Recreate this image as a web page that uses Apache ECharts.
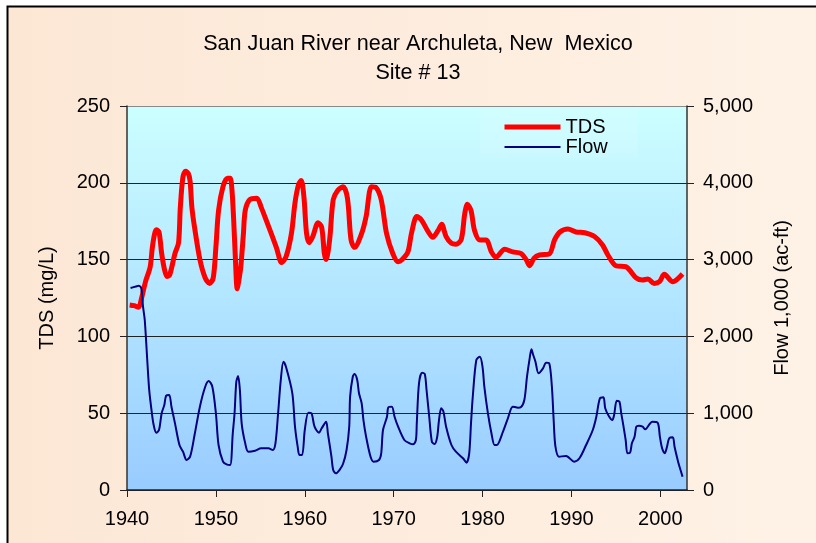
<!DOCTYPE html>
<html>
<head>
<meta charset="utf-8">
<script src="https://cdn.jsdelivr.net/npm/echarts@6/dist/echarts.min.js"></script>
<style>
  html, body { margin: 0; padding: 0; background: #ffffff; }
  #chart { width: 816px; height: 543px; }
</style>
</head>
<body>
<div id="chart"></div>
<script>
// Total dissolved solids (mg/L), annual series
const tdsYears = [
  1940.3, 1940.8, 1941.3, 1941.6, 1942.1, 1942.6, 1942.9, 1943.3, 1943.6, 1943.9,
  1944.2, 1944.5, 1944.8, 1945.4, 1945.8, 1946.0, 1946.3, 1946.6, 1946.9, 1947.1,
  1947.3, 1947.6, 1948.2, 1948.8, 1949.3, 1949.7, 1950.0, 1950.3, 1950.8, 1951.3,
  1951.6, 1951.8, 1952.0, 1952.2, 1952.4, 1952.6, 1952.8, 1953.1, 1953.3, 1953.8,
  1954.6, 1955.1, 1955.7, 1956.8, 1957.4, 1957.9, 1958.5, 1958.9, 1959.3, 1959.6,
  1959.9, 1960.2, 1960.5, 1960.9, 1961.5, 1961.9, 1962.2, 1962.4, 1962.8, 1963.2,
  1963.7, 1964.3, 1964.8, 1965.2, 1965.6, 1966.4, 1966.9, 1967.5, 1968.0, 1968.6,
  1969.2, 1969.9, 1970.5, 1970.9, 1971.6, 1972.0, 1972.6, 1973.1, 1973.9, 1974.4,
  1975.0, 1975.4, 1975.9, 1976.5, 1977.0, 1977.6, 1978.0, 1978.3, 1978.7, 1979.1,
  1979.7, 1980.4, 1981.0, 1981.5, 1982.5, 1983.4, 1984.3, 1984.9, 1985.3, 1985.8,
  1986.4, 1987.5, 1988.1, 1988.7, 1989.6, 1990.5, 1991.5, 1992.6, 1993.5, 1994.1,
  1995.0, 1996.1, 1997.3, 1998.0, 1998.6, 1999.3, 1999.9, 2000.45, 2001.4, 2002.5
];
const tdsValues = [
  120.5, 120, 119, 124, 136, 145, 160, 169.5, 168, 154,
  144, 139, 140, 154, 161, 184, 204, 207.5, 206, 201,
  184, 171, 150, 138, 134.5, 138, 158, 182, 197.5, 203,
  203, 196, 176, 150, 131, 137, 145, 167, 182, 189,
  190, 184, 175, 158, 148, 152, 167, 187, 199, 201.5,
  191, 167, 161, 165, 174, 171, 154, 150, 163, 189,
  195, 197.5, 190, 163, 158, 167, 178, 197.5, 197, 189,
  167, 154, 148.6, 149.7, 155, 167, 178, 176, 168, 164.5,
  169, 173, 165, 160.6, 160, 163, 180, 186, 182, 169,
  162.8, 162.8, 155, 151.5, 156.7, 155, 154, 150, 146, 151,
  153, 153.6, 162.8, 168, 170, 168, 167.5, 165, 159.5, 153,
  146, 145.4, 138, 136.7, 137.4, 134.5, 135.6, 140.4, 135.6, 140.6
];

// Flow, thousands of acre-feet
const flowYears = [
  1940.4, 1941.0, 1941.3, 1941.6, 1941.8, 1942.0, 1942.3, 1942.5, 1942.8, 1943.0,
  1943.3, 1943.6, 1943.9, 1944.2, 1944.4, 1944.75, 1945.0, 1945.4, 1945.9, 1946.3,
  1946.7, 1947.1, 1947.6, 1948.2, 1948.8, 1949.2, 1949.6, 1950.0, 1950.3, 1950.8,
  1951.2, 1951.6, 1951.9, 1952.1, 1952.3, 1952.5, 1952.7, 1952.9, 1953.3, 1953.65,
  1954.4, 1955.1, 1955.9, 1956.4, 1956.7, 1957.0, 1957.3, 1957.6, 1957.9, 1958.6,
  1958.9, 1959.2, 1959.4, 1959.7, 1960.0, 1960.4, 1960.75, 1961.1, 1961.6, 1961.9,
  1962.4, 1962.6, 1963.0, 1963.2, 1963.5, 1963.9, 1964.3, 1964.7, 1965.0, 1965.1,
  1965.4, 1965.6, 1965.9, 1966.1, 1966.4, 1966.6, 1966.9, 1967.4, 1967.75, 1968.35,
  1968.6, 1968.8, 1969.25, 1969.4, 1969.8, 1970.1, 1970.5, 1971.2, 1971.8, 1972.2,
  1972.5, 1972.6, 1972.85, 1973.2, 1973.5, 1973.7, 1974.0, 1974.3, 1974.6, 1974.9,
  1975.1, 1975.35, 1975.6, 1975.9, 1976.5, 1977.0, 1977.8, 1978.2, 1978.5, 1978.7,
  1978.9, 1979.3, 1979.7, 1980.0, 1980.2, 1980.6, 1981.0, 1981.35, 1981.6, 1982.3,
  1982.85, 1983.4, 1984.0, 1984.3, 1984.7, 1985.0, 1985.3, 1985.5, 1985.7, 1985.95,
  1986.3, 1986.8, 1987.15, 1987.5, 1987.8, 1988.0, 1988.2, 1988.6, 1989.4, 1990.3,
  1990.9, 1991.65, 1992.4, 1992.8, 1993.2, 1993.6, 1993.8, 1994.2, 1994.6, 1994.8,
  1995.1, 1995.4, 1995.6, 1995.8, 1996.1, 1996.3, 1996.6, 1996.8, 1997.1, 1997.3,
  1997.6, 1998.0, 1998.3, 1998.8, 1999.1, 1999.7, 1999.95, 2000.2, 2000.5, 2000.75,
  2001.0, 2001.4, 2001.6, 2001.95, 2002.1, 2002.5
];
const flowValues = [
  2630, 2650, 2660, 2630, 2390, 2210, 1650, 1300, 1000, 846,
  746, 781, 1000, 1107, 1228, 1237, 1085, 868, 586, 499,
  391, 434, 716, 1085, 1345, 1419, 1345, 1000, 586, 369,
  334, 326, 738, 1000, 1410, 1484, 1302, 868, 608, 499,
  512, 543, 543, 521, 608, 1000, 1432, 1671, 1598, 1259,
  824, 564, 456, 456, 781, 1007, 999, 824, 746, 803,
  889, 738, 434, 260, 217, 260, 339, 521, 824, 1215,
  1475, 1510, 1432, 1259, 1129, 911, 694, 434, 369, 391,
  478, 781, 954, 1077, 1085, 954, 824, 651, 608, 595,
  651, 868, 1389, 1527, 1510, 1302, 954, 629, 599, 694,
  911, 1064, 1020, 824, 586, 499, 413, 356, 478, 868,
  1215, 1693, 1736, 1600, 1345, 1000, 738, 586, 586, 760,
  933, 1085, 1072, 1077, 1172, 1475, 1715, 1832, 1758, 1671,
  1519, 1584, 1658, 1650, 1345, 911, 564, 434, 443, 369,
  413, 586, 781, 954, 1194, 1207, 1064, 964, 911, 977,
  1163, 1150, 1000, 868, 651, 478, 486, 608, 694, 824,
  837, 824, 790, 859, 889, 876, 694, 543, 478, 564,
  673, 686, 564, 391, 326, 173
];

// Axis tick values
const yearTicks = [1940, 1950, 1960, 1970, 1980, 1990, 2000];
const tdsTicks = [0, 50, 100, 150, 200, 250];
const flowTicks = [0, 1000, 2000, 3000, 4000, 5000];

const FONT = '"Liberation Sans", Arial, sans-serif';

const pairs = (xs, ys) => xs.map((x, i) => [x, ys[i]]);

const chart = echarts.init(document.getElementById('chart'), null, { renderer: 'canvas' });

chart.setOption({
  backgroundColor: '#ffffff',
  animation: false,
  textStyle: { fontFamily: FONT, color: '#000' },
  graphic: [{
    type: 'rect',
    z: -100,
    silent: true,
    shape: { x: 7.5, y: 6.5, width: 900, height: 600 },
    style: {
      fill: new echarts.graphic.LinearGradient(0, 0, 1, 0, [
        { offset: 0, color: '#FCE7D5' },
        { offset: 1, color: '#FEF3E8' }
      ]),
      stroke: '#000',
      lineWidth: 2
    }
  }],
  title: {
    text: 'San Juan River near Archuleta, New  Mexico\nSite # 13',
    left: 413,
    top: 25,
    textAlign: 'center',
    textStyle: {
      fontFamily: FONT,
      fontSize: 21.6,
      fontWeight: 'normal',
      color: '#000',
      lineHeight: 29
    }
  },
  legend: {
    orient: 'vertical',
    left: 480,
    top: 110,
    padding: [7, 30, 1, 22],
    itemGap: 0,
    itemWidth: 56,
    itemHeight: 20,
    backgroundColor: 'rgba(255,255,255,0.1)',
    textStyle: { fontFamily: FONT, fontSize: 20, color: '#000' },
    itemStyle: { opacity: 0 },
    data: [
      { name: 'TDS', itemStyle: { opacity: 0 }, lineStyle: { width: 5, color: '#FF0000', opacity: 1 } },
      { name: 'Flow', itemStyle: { opacity: 0 }, lineStyle: { width: 2, color: '#000080', opacity: 1 } }
    ]
  },
  grid: {
    left: 127,
    right: 129,
    top: 106,
    bottom: 53,
    show: true,
    borderWidth: 0,
    backgroundColor: new echarts.graphic.LinearGradient(0, 0, 0, 1, [
      { offset: 0, color: '#CCFFFF' },
      { offset: 1, color: '#99CCFF' }
    ])
  },
  xAxis: {
    type: 'value',
    min: 1940,
    max: 2003,
    interval: 10,
    axisLine: { show: true, onZero: false, lineStyle: { color: '#222', width: 1.5 } },
    axisTick: { show: true, inside: false, length: 7, customValues: yearTicks, lineStyle: { color: '#222' } },
    axisLabel: {
      customValues: yearTicks, fontSize: 20, color: '#000', margin: 19, fontFamily: FONT,
      formatter: v => String(v)
    },
    splitLine: { show: false }
  },
  yAxis: [{
    type: 'value',
    min: tdsTicks[0],
    max: tdsTicks[tdsTicks.length - 1],
    interval: 50,
    name: 'TDS (mg/L)',
    nameLocation: 'middle',
    nameRotate: 90,
    nameGap: 70,
    nameTextStyle: { fontSize: 20, color: '#000', fontFamily: FONT },
    axisLine: { show: true, lineStyle: { color: '#333', width: 1.5 } },
    axisTick: { show: true, inside: false, length: 7, lineStyle: { color: '#222' } },
    axisLabel: { fontSize: 20, color: '#000', margin: 17, fontFamily: FONT },
    splitLine: {
      show: true,
      lineStyle: { color: ['#222', '#222', '#222', '#222', '#222', '#8a8a8a'], width: 1 }
    }
  }, {
    type: 'value',
    min: flowTicks[0],
    max: flowTicks[flowTicks.length - 1],
    interval: 1000,
    position: 'right',
    name: 'Flow 1,000 (ac-ft)',
    nameLocation: 'middle',
    nameRotate: 90,
    nameGap: 85,
    nameTextStyle: { fontSize: 20, color: '#000', fontFamily: FONT },
    axisLine: { show: true, lineStyle: { color: '#333', width: 1.5 } },
    axisTick: { show: true, inside: false, length: 7, lineStyle: { color: '#222' } },
    axisLabel: {
      fontSize: 20, color: '#000', margin: 16, fontFamily: FONT,
      formatter: v => v.toLocaleString('en-US')
    },
    splitLine: { show: false }
  }],
  series: [{
    name: 'TDS',
    type: 'line',
    yAxisIndex: 0,
    data: pairs(tdsYears, tdsValues),
    showSymbol: false,
    symbol: 'none',
    smooth: 0.3,
    lineStyle: { color: '#FF0000', width: 5 },
    itemStyle: { color: '#FF0000' },
    z: 3
  }, {
    name: 'Flow',
    type: 'line',
    yAxisIndex: 1,
    data: pairs(flowYears, flowValues),
    showSymbol: false,
    symbol: 'none',
    smooth: 0.3,
    lineStyle: { color: '#000080', width: 2 },
    itemStyle: { color: '#000080' },
    z: 4
  }]
});
</script>
</body>
</html>
